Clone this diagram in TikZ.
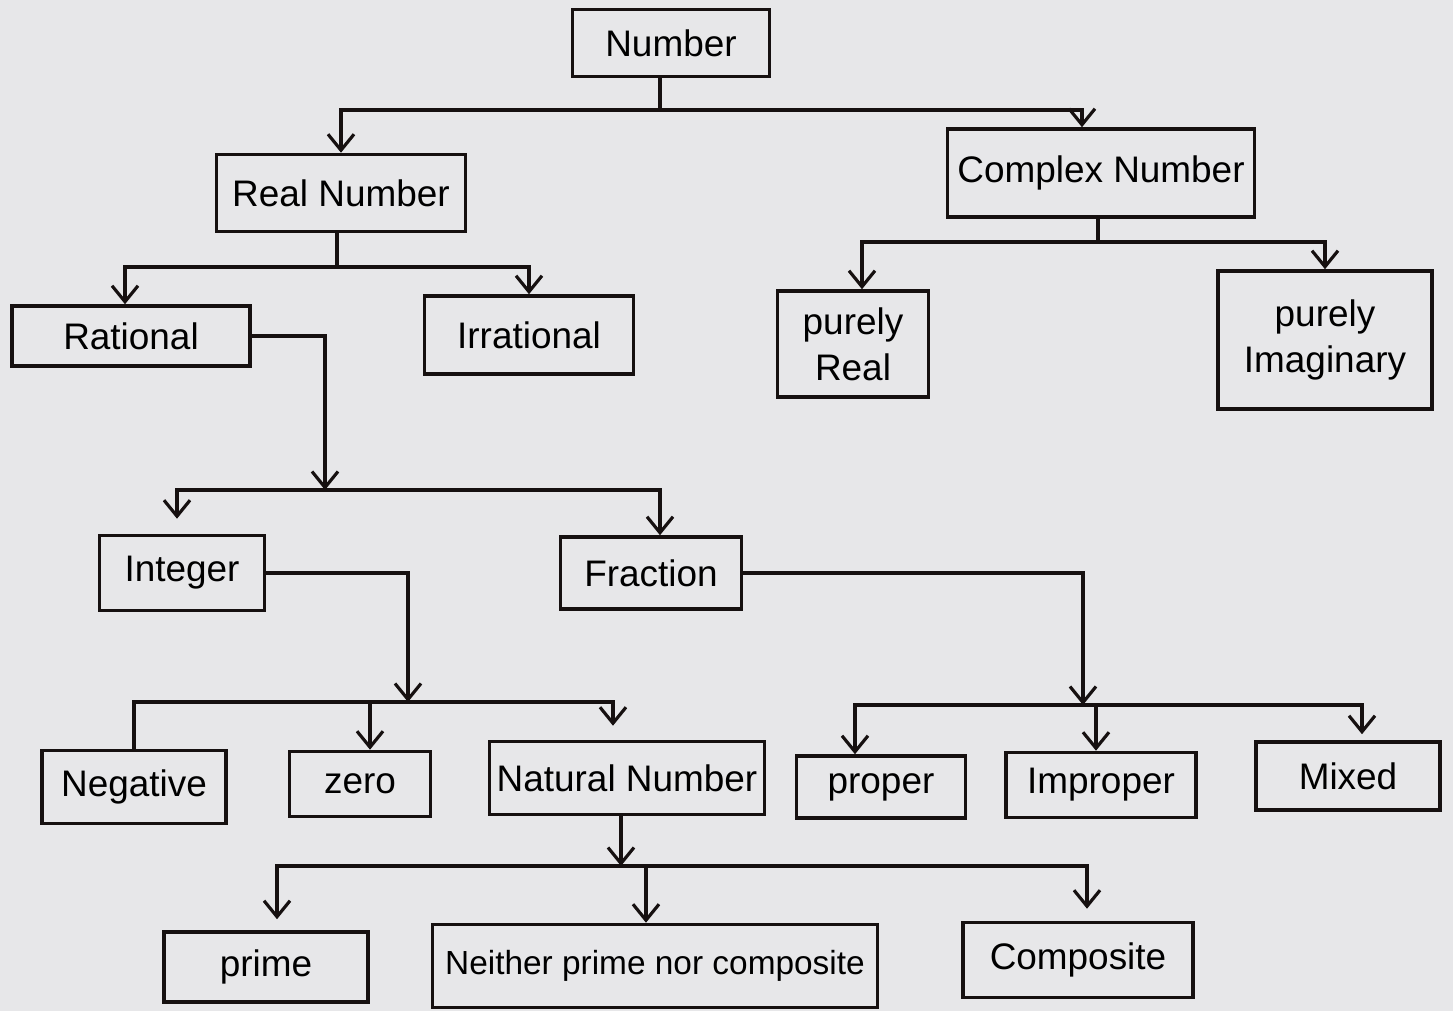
\documentclass[tikz,border=0pt]{standalone}
\usepackage{fontspec}
\setmainfont{Liberation Sans}
\usetikzlibrary{arrows.meta}
\definecolor{paper}{RGB}{231,231,233}
\definecolor{ink}{RGB}{22,16,16}

\begin{document}
\begin{tikzpicture}[x=0.01cm, y=-0.01cm, >={Straight Barb[length=1.6mm,width=2.6mm]},
        font=\fontsize{10.5}{13}\selectfont,
        box/.style={draw=ink, line width=1pt, inner sep=2pt, align=center},
        link/.style={->, draw=ink, line width=0.9pt},
        bar/.style={draw=ink, line width=0.9pt}]
        % ---- paper ----
        \fill[paper] (0,0) rectangle (1453,1011);
        \useasboundingbox (0,0) rectangle (1453,1011);
        % ---- level 0 and 1 ----
        \node[box, minimum width=1.97cm, minimum height=0.67cm] (num) at (671,43) {Number};
        \node[box, minimum width=2.49cm, minimum height=0.77cm] (real) at (341,193) {Real Number};
        \node[box, minimum width=3.07cm, minimum height=0.88cm] (cplx) at (1101,173) {Complex Number};
        % ---- level 2 ----
        \node[box, minimum width=2.38cm, minimum height=0.60cm] (rat) at (131,336) {Rational};
        \node[box, minimum width=2.09cm, minimum height=0.78cm] (irr) at (529,335) {Irrational};
        \node[box, minimum width=1.51cm, minimum height=1.06cm] (preal) at (853,344) {purely\\Real};
        \node[box, minimum width=2.14cm, minimum height=1.38cm] (pimag) at (1325,340) {purely\\Imaginary};
        % ---- level 3 ----
        \node[box, minimum width=1.65cm, minimum height=0.75cm] (intg) at (182,573) {Integer};
        \node[box, minimum width=1.81cm, minimum height=0.72cm] (frac) at (651,573) {Fraction};
        % ---- level 4 ----
        \node[box, minimum width=1.84cm, minimum height=0.73cm] (neg) at (134,787) {Negative};
        \node[box, minimum width=1.41cm, minimum height=0.65cm] (zero) at (360,784) {zero};
        \node[box, minimum width=2.67cm, minimum height=0.73cm] (nat) at (627,778) {Natural Number};
        \node[box, minimum width=1.69cm, minimum height=0.62cm] (prop) at (881,787) {proper};
        \node[box, minimum width=1.90cm, minimum height=0.65cm] (impr) at (1101,785) {Improper};
        \node[box, minimum width=1.84cm, minimum height=0.68cm] (mixd) at (1348,776) {Mixed};
        % ---- level 5 ----
        \node[box, minimum width=2.04cm, minimum height=0.70cm] (prim) at (266,967) {prime};
        \node[box, minimum width=4.45cm, minimum height=0.83cm, font=\fontsize{9.5}{12}\selectfont] (neith) at (655,966) {Neither prime nor composite};
        \node[box, minimum width=2.30cm, minimum height=0.75cm] (comp) at (1078,960) {Composite};
        % ---- junctions ----
        \coordinate (jn) at (660,110);
        \coordinate (jr) at (337,267);
        \coordinate (jc) at (1098,242);
        \coordinate (jq) at (325,490);
        \coordinate (ji) at (408,702);
        \coordinate (jf) at (1083,705);
        \coordinate (jnat) at (621,866);
        % ---- connectors ----
        \draw[bar] (num.south -| jn) -- (jn);
        \draw[link] (jn) -| (real);
        \draw[link] (jn) -| ([xshift=-0.19cm]cplx.north);
        \draw[bar] (real.south -| jr) -- (jr);
        \draw[link] (jr) -| ([xshift=-0.06cm]rat.north);
        \draw[link] (jr) -| (irr);
        \draw[bar] (cplx.south -| jc) -- (jc);
        \draw[link] (jc) -| ([xshift=0.09cm]preal.north);
        \draw[link] (jc) -| (pimag);
        \draw[link] (rat.east) -| (jq);
        \draw[link, shorten >=1.5mm] (jq) -| ([xshift=-0.05cm]intg.north);
        \draw[link] (jq) -| ([xshift=0.09cm]frac.north);
        \draw[link] (intg.east) -| (ji);
        \draw[bar] (ji) -| (neg);
        \draw[link] (ji) -| ([xshift=0.1cm]zero.north);
        \draw[link, shorten >=1.4mm] (ji) -| ([xshift=-0.14cm]nat.north);
        \draw[link] (frac.east) -| (jf);
        \draw[link] (jf) -| ([xshift=-0.26cm]prop.north);
        \draw[link] (jf) -| ([xshift=-0.05cm]impr.north);
        \draw[link, shorten >=0.6mm] (jf) -| ([xshift=0.14cm]mixd.north);
        \draw[link] (nat.south -| jnat) -- (jnat);
        \draw[link, shorten >=1.1mm] (jnat) -| ([xshift=0.11cm]prim.north);
        \draw[link] (jnat) -| ([xshift=-0.09cm]neith.north);
        \draw[link, shorten >=1.2mm] (jnat) -| ([xshift=0.09cm]comp.north);
\end{tikzpicture}
\end{document}
